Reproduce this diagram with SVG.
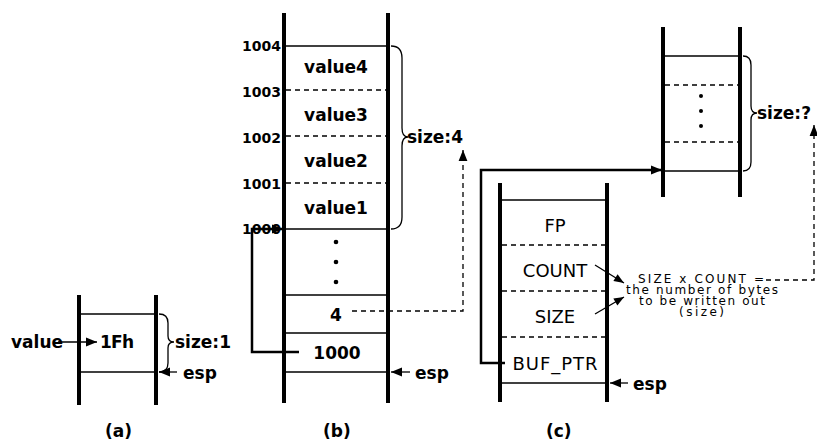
<svg xmlns="http://www.w3.org/2000/svg" width="817" height="443" viewBox="0 0 817 443">
<defs>
<marker id="ah" viewBox="0 0 10 10" refX="10" refY="5" markerWidth="12" markerHeight="11" markerUnits="userSpaceOnUse" orient="auto"><path d="M0,1 L10,5 L0,9 z" fill="#000"/></marker>
<marker id="ahs" viewBox="0 0 10 10" refX="10" refY="5" markerWidth="11" markerHeight="10" markerUnits="userSpaceOnUse" orient="auto"><path d="M0,1 L10,5 L0,9 z" fill="#000"/></marker>
</defs>
<style>
.wall{stroke:#000;stroke-width:4;fill:none}
.sol{stroke:#000;stroke-width:1.3;fill:none}
.dsh{stroke:#000;stroke-width:1.3;stroke-dasharray:5,4;fill:none}
.brace{stroke:#000;stroke-width:1.3;fill:none}
.con{stroke:#000;stroke-width:2.5;fill:none}
.dcon{stroke:#000;stroke-width:1.3;stroke-dasharray:5,4;fill:none}
.b{font-family:"DejaVu Sans",sans-serif;font-weight:bold;font-size:17px;fill:#000}
.lb{font-family:"DejaVu Sans",sans-serif;font-weight:bold;font-size:14px;fill:#000}
.n{font-family:"DejaVu Sans",sans-serif;font-size:18px;fill:#000}
.s{font-family:"DejaVu Sans",sans-serif;font-size:12px;fill:#000}
.dot{fill:#000}
</style>
<rect width="817" height="443" fill="#fff"/>

<g id="stack-a">
<line class="wall" x1="79" y1="295" x2="79" y2="405"/>
<line class="wall" x1="156" y1="295" x2="156" y2="405"/>
<line class="sol" x1="79" y1="314" x2="156" y2="314"/>
<line class="sol" x1="79" y1="372" x2="156" y2="372"/>
<text class="b" x="100" y="348" textLength="34">1Fh</text>
<path class="brace" d="M159,314 Q168,314 168,323 L168,336 Q168,342 174,342 Q168,342 168,348 L168,363 Q168,372 159,372"/>
<text class="b" x="175" y="348">size:1</text>
<text class="b" x="11" y="348">value</text>
<text class="b" x="183" y="379">esp</text>
<text class="b" x="105" y="437">(a)</text>
</g>

<g id="stack-b">
<line class="wall" x1="284" y1="13" x2="284" y2="403"/>
<line class="wall" x1="388" y1="13" x2="388" y2="403"/>
<line class="sol" x1="284" y1="46" x2="388" y2="46"/>
<line class="dsh" x1="286" y1="90" x2="388" y2="90"/>
<line class="dsh" x1="286" y1="136" x2="388" y2="136"/>
<line class="dsh" x1="286" y1="183" x2="388" y2="183"/>
<line class="sol" x1="284" y1="229" x2="388" y2="229"/>
<line class="sol" x1="284" y1="295" x2="388" y2="295"/>
<line class="sol" x1="284" y1="333" x2="388" y2="333"/>
<line class="sol" x1="284" y1="372" x2="388" y2="372"/>
<text class="b" x="336" y="73" text-anchor="middle">value4</text>
<text class="b" x="336" y="121" text-anchor="middle">value3</text>
<text class="b" x="336" y="167" text-anchor="middle">value2</text>
<text class="b" x="336" y="214" text-anchor="middle">value1</text>
<circle class="dot" cx="336" cy="242" r="2.3"/>
<circle class="dot" cx="336" cy="262" r="2.3"/>
<circle class="dot" cx="336" cy="282" r="2.3"/>
<text class="b" x="336" y="321" text-anchor="middle">4</text>
<text class="b" x="337" y="359" text-anchor="middle">1000</text>
<text class="lb" x="281" y="51" text-anchor="end">1004</text>
<text class="lb" x="281" y="97" text-anchor="end">1003</text>
<text class="lb" x="281" y="143" text-anchor="end">1002</text>
<text class="lb" x="281" y="189" text-anchor="end">1001</text>
<text class="lb" x="281" y="234" text-anchor="end">1000</text>
<path class="brace" d="M391,46 Q402,46 402,58 L402,128 Q402,137 408,137 Q402,137 402,146 L402,217 Q402,229 391,229"/>
<text class="b" x="407" y="143">size:4</text>
<text class="b" x="415" y="379">esp</text>
<text class="b" x="323" y="437">(b)</text>
</g>

<g id="stack-c">
<line class="wall" x1="500" y1="183" x2="500" y2="402"/>
<line class="wall" x1="607" y1="183" x2="607" y2="402"/>
<line class="sol" x1="500" y1="200" x2="607" y2="200"/>
<line class="dsh" x1="502" y1="245" x2="607" y2="245"/>
<line class="dsh" x1="502" y1="291" x2="607" y2="291"/>
<line class="dsh" x1="502" y1="337" x2="607" y2="337"/>
<line class="sol" x1="500" y1="383" x2="607" y2="383"/>
<text class="n" x="555" y="232" text-anchor="middle">FP</text>
<text class="n" x="555" y="277" text-anchor="middle">COUNT</text>
<text class="n" x="555" y="323" text-anchor="middle">SIZE</text>
<text class="n" x="555" y="370" text-anchor="middle" textLength="85">BUF_PTR</text>
<text class="b" x="633" y="390">esp</text>
<text class="b" x="546" y="437">(c)</text>
</g>

<g id="note">
<text class="s" x="638" y="283" font-size="15" textLength="126">SIZE x COUNT =</text>
<text class="s" x="626" y="294" textLength="152">the number of bytes</text>
<text class="s" x="639" y="305" textLength="126">to be written out</text>
<text class="s" x="679" y="316" textLength="45">(size)</text>
</g>

<g id="stack-d">
<line class="wall" x1="663" y1="27" x2="663" y2="197"/>
<line class="wall" x1="740" y1="27" x2="740" y2="197"/>
<line class="sol" x1="663" y1="56" x2="740" y2="56"/>
<line class="dsh" x1="665" y1="85" x2="740" y2="85"/>
<line class="dsh" x1="665" y1="142" x2="740" y2="142"/>
<line class="sol" x1="663" y1="171" x2="740" y2="171"/>
<circle class="dot" cx="701" cy="96" r="2"/>
<circle class="dot" cx="701" cy="111" r="2"/>
<circle class="dot" cx="701" cy="126" r="2"/>
<path class="brace" d="M743,56 Q751,56 751,65 L751,106 Q751,113 757,113 Q751,113 751,120 L751,162 Q751,171 743,171"/>
<text class="b" x="757" y="119">size:?</text>
</g>

<g id="connectors">
<line class="sol" x1="58" y1="342" x2="97" y2="342" stroke-width="2" marker-end="url(#ah)"/>
<line class="sol" x1="177" y1="372" x2="159" y2="372" stroke-width="2" marker-end="url(#ah)"/>
<line class="sol" x1="410" y1="372" x2="391" y2="372" stroke-width="2" marker-end="url(#ah)"/>
<line class="sol" x1="628" y1="383" x2="610" y2="383" stroke-width="2" marker-end="url(#ah)"/>
<polyline class="con" points="299,352 252,352 252,229 283,229" marker-end="url(#ah)"/>
<polyline class="con" points="505,363 481,363 481,170 662,170" marker-end="url(#ah)"/>
<polyline class="dcon" points="352,311 463,311 463,150" marker-end="url(#ah)"/>
<polyline class="dcon" points="766,280 814,280 814,125" marker-end="url(#ah)"/>
<line class="sol" x1="595" y1="265" x2="624" y2="283" marker-end="url(#ahs)"/>
<line class="sol" x1="595" y1="314" x2="624" y2="297" marker-end="url(#ahs)"/>
</g>
</svg>
